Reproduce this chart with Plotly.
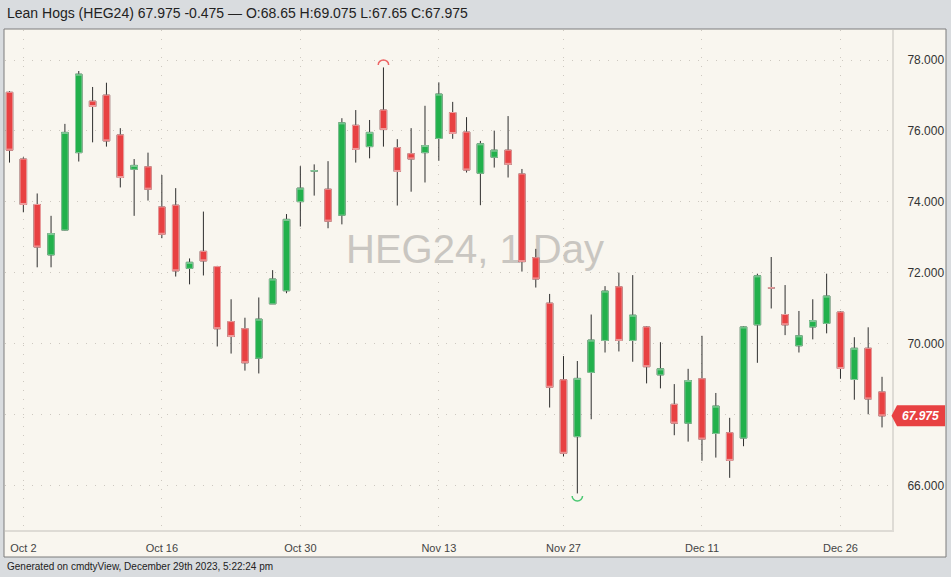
import plotly.graph_objects as go

# ---------------- data ----------------
dates = ["2023-09-29",
         "2023-10-02", "2023-10-03", "2023-10-04", "2023-10-05", "2023-10-06",
         "2023-10-09", "2023-10-10", "2023-10-11", "2023-10-12", "2023-10-13",
         "2023-10-16", "2023-10-17", "2023-10-18", "2023-10-19", "2023-10-20",
         "2023-10-23", "2023-10-24", "2023-10-25", "2023-10-26", "2023-10-27",
         "2023-10-30", "2023-10-31", "2023-11-01", "2023-11-02", "2023-11-03",
         "2023-11-06", "2023-11-07", "2023-11-08", "2023-11-09", "2023-11-10",
         "2023-11-13", "2023-11-14", "2023-11-15", "2023-11-16", "2023-11-17",
         "2023-11-20", "2023-11-21", "2023-11-22", "2023-11-24",
         "2023-11-27", "2023-11-28", "2023-11-29", "2023-11-30", "2023-12-01",
         "2023-12-04", "2023-12-05", "2023-12-06", "2023-12-07", "2023-12-08",
         "2023-12-11", "2023-12-12", "2023-12-13", "2023-12-14", "2023-12-15",
         "2023-12-18", "2023-12-19", "2023-12-20", "2023-12-21", "2023-12-22",
         "2023-12-26", "2023-12-27", "2023-12-28", "2023-12-29"]

opens = [77.09, 75.21, 73.93, 72.51, 73.21, 75.39, 76.84, 77.01, 75.89, 74.92,
         74.99, 73.86, 73.91, 72.13, 72.61, 72.18, 70.63, 70.43, 69.60, 71.13,
         71.50, 74.01, 74.87, 74.36, 73.63, 76.16, 75.56, 76.59, 75.53, 75.36,
         75.39, 75.79, 76.52, 75.97, 74.81, 75.26, 75.46, 74.79, 72.43, 71.15,
         68.99, 67.39, 69.20, 70.10, 71.61, 70.10, 70.48, 69.13, 68.30, 67.77,
         69.02, 67.48, 67.50, 67.35, 70.54, 71.58, 70.83, 69.95, 70.48, 70.58,
         70.90, 69.00, 69.88, 68.65]
highs = [77.12, 75.26, 74.24, 73.61, 76.20, 77.69, 77.24, 77.36, 76.08, 75.21,
         75.39, 74.76, 74.39, 72.41, 73.73, 72.20, 71.26, 70.74, 71.31, 72.08,
         73.66, 75.01, 75.06, 75.15, 76.36, 76.59, 76.31, 77.79, 75.77, 76.08,
         76.71, 77.37, 76.82, 76.39, 75.72, 76.01, 76.42, 74.93, 72.68, 71.41,
         69.66, 69.52, 70.83, 71.63, 72.01, 71.94, 70.50, 70.05, 68.87, 69.30,
         70.23, 68.62, 67.92, 70.50, 71.98, 72.45, 71.66, 70.93, 71.26, 71.98,
         70.92, 70.19, 70.47, 69.075]
lows = [75.11, 73.71, 72.16, 72.16, 73.20, 75.14, 75.68, 75.56, 74.41, 73.61,
        74.04, 72.98, 71.90, 71.68, 71.93, 69.93, 69.73, 69.25, 69.17, 71.13,
        71.43, 73.31, 74.18, 73.26, 73.37, 75.11, 75.23, 75.56, 73.90, 74.29,
        74.55, 75.16, 75.78, 74.83, 73.91, 74.97, 74.69, 72.04, 71.59, 68.21,
        66.83, 65.79, 67.88, 69.76, 69.79, 69.50, 68.89, 68.75, 67.43, 67.25,
        66.71, 66.80, 66.23, 67.12, 69.47, 71.00, 70.25, 69.76, 70.13, 70.30,
        69.02, 68.43, 68.02, 67.65]
closes = [75.46, 73.93, 72.73, 73.11, 75.96, 77.60, 76.69, 75.72, 74.69, 75.03,
          74.36, 73.09, 72.06, 72.30, 72.34, 70.43, 70.21, 69.47, 70.70, 71.83,
          73.51, 74.39, 74.88, 73.46, 76.23, 75.48, 75.96, 76.04, 74.86, 75.21,
          75.59, 77.04, 75.93, 74.90, 75.64, 75.46, 75.06, 72.32, 71.83, 68.78,
          66.92, 69.03, 70.11, 71.49, 70.10, 70.81, 69.36, 69.30, 67.77, 68.97,
          67.32, 68.25, 66.72, 70.48, 71.92, 71.58, 70.54, 70.23, 70.66, 71.35,
          69.31, 69.88, 68.45, 67.975]

tick_dates = ["2023-10-02", "2023-10-16", "2023-10-30", "2023-11-13",
              "2023-11-27", "2023-12-11", "2023-12-26"]
tick_labels = ["Oct 2", "Oct 16", "Oct 30", "Nov 13", "Nov 27", "Dec 11", "Dec 26"]
price_ticks = [66, 68, 70, 72, 74, 76, 78]

instrument = "Lean Hogs"
symbol = "HEG24"
interval = "1 Day"
footer_text = "Generated on cmdtyView, December 29th 2023, 5:22:24 pm"

# ---------------- styling ----------------
UP = "#22b14c"
DOWN = "#e84142"
UP_EDGE = "#86c99a"
DOWN_EDGE = "#eea0a0"
WICK = "#2e2e2e"
CREAM = "#f9f6ef"
OUTER = "#d9dcdf"
GRID = "#cdc8c0"
FONT = "Liberation Sans, Arial, sans-serif"

W, H = 951, 577
ML, MR, MT, MB = 5, 59, 30, 47
PW = W - ML - MR
PH = H - MT - MB
Y_RANGE = [64.76, 78.845]
X_RANGE = [-0.325, 63.72]


def px_x(p):
    return (p - ML) / PW


def px_y(p):
    return (H - MB - p) / PH


def val_to_paper(v):
    return (v - Y_RANGE[0]) / (Y_RANGE[1] - Y_RANGE[0])


x = list(range(len(dates)))
body_hi = [max(o, c) for o, c in zip(opens, closes)]
body_lo = [min(o, c) for o, c in zip(opens, closes)]

fig = go.Figure()
# wicks (dark)
fig.add_trace(go.Candlestick(
    x=x, open=opens, high=highs, low=lows, close=closes,
    increasing=dict(line=dict(color=WICK, width=1), fillcolor=UP),
    decreasing=dict(line=dict(color=WICK, width=1), fillcolor=DOWN),
    whiskerwidth=0, hoverinfo="skip", showlegend=False))
# bodies (coloured, light edge)
fig.add_trace(go.Candlestick(
    x=x, open=opens, high=body_hi, low=body_lo, close=closes,
    increasing=dict(line=dict(color=UP_EDGE, width=1), fillcolor=UP),
    decreasing=dict(line=dict(color=DOWN_EDGE, width=1), fillcolor=DOWN),
    whiskerwidth=0, hoverinfo="skip", showlegend=False))

shapes = []
# chart frame
shapes.append(dict(type="rect", xref="paper", yref="paper",
                   x0=px_x(4), x1=px_x(946), y0=px_y(557), y1=px_y(29),
                   fillcolor=CREAM, line=dict(color="#7d7d7d", width=1), layer="below"))
# watermark
shapes.append(dict(type="rect", xref="paper", yref="paper",
                   x0=px_x(330), x1=px_x(620), y0=px_y(270), y1=px_y(220),
                   fillcolor="rgba(0,0,0,0)", line=dict(width=0), layer="below",
                   label=dict(text=f"{symbol}, {interval}",
                              font=dict(family=FONT, size=40, color="#c9c6c1"),
                              textposition="middle center")))

# high / low markers (arcs)
i_hi = max(range(len(highs)), key=lambda i: highs[i])
i_lo = min(range(len(lows)), key=lambda i: lows[i])
ppx = PW / (X_RANGE[1] - X_RANGE[0])
ppy = PH / (Y_RANGE[1] - Y_RANGE[0])
rx, ry = 5.2 / ppx, 5.0 / ppy
k = 0.5523


def arc(xc, yc, sgn):
    return (f"M {xc-rx} {yc} C {xc-rx} {yc+sgn*k*ry} {xc-k*rx} {yc+sgn*ry} {xc} {yc+sgn*ry} "
            f"C {xc+k*rx} {yc+sgn*ry} {xc+rx} {yc+sgn*k*ry} {xc+rx} {yc}")


shapes.append(dict(type="path", xref="x", yref="y",
                   path=arc(x[i_hi], highs[i_hi] + 2.5 / ppy, 1),
                   line=dict(color="#ee6565", width=1.5)))
shapes.append(dict(type="path", xref="x", yref="y",
                   path=arc(x[i_lo], lows[i_lo] - 2.5 / ppy, -1),
                   line=dict(color="#4cc873", width=1.5)))

# last price tag
last = closes[-1]
yc = val_to_paper(last)
hh = 10.5 / PH
tag = (f"M {px_x(891.5)} {yc} L {px_x(897)} {yc+hh} L {px_x(945)} {yc+hh} "
       f"L {px_x(945)} {yc-hh} L {px_x(897)} {yc-hh} Z")
shapes.append(dict(type="path", xref="paper", yref="paper", path=tag,
                   fillcolor=DOWN, line=dict(width=0)))

change = closes[-1] - closes[-2]
title = (f"{instrument} ({symbol}) {last:.3f} {change:+.3f} \u2014 "
         f"O:{opens[-1]:g} H:{highs[-1]:g} L:{lows[-1]:g} C:{closes[-1]:g}")

# price-axis labels: the one hidden under the last-price tag is left blank
price_text = ["" if abs(t - last) < 0.4 else f"{t:.3f}" for t in price_ticks]

annotations = [
    dict(text=title, xref="paper", yref="paper", x=px_x(5), y=px_y(12.5),
         xanchor="left", yanchor="middle", showarrow=False,
         font=dict(family=FONT, size=14, color="#222222")),
    dict(text=footer_text, xref="paper", yref="paper", x=px_x(5), y=px_y(566.5),
         xanchor="left", yanchor="middle", showarrow=False,
         font=dict(family=FONT, size=10, color="#222222")),
    dict(text=f"<b><i>{last:.3f}</i></b>", xref="paper", yref="paper",
         x=px_x(920), y=yc, xanchor="center", yanchor="middle", showarrow=False,
         font=dict(family=FONT, size=12, color="#ffffff")),
]

fig.update_layout(
    width=W, height=H,
    margin=dict(l=ML, r=MR, t=MT, b=MB, pad=0),
    paper_bgcolor=OUTER, plot_bgcolor=CREAM,
    showlegend=False, boxgap=0.33,
    shapes=shapes, annotations=annotations,
    font=dict(family=FONT),
    xaxis=dict(range=X_RANGE, rangeslider=dict(visible=False),
               tickmode="array", tickvals=[dates.index(d) for d in tick_dates],
               ticktext=tick_labels, showgrid=True, gridcolor=GRID,
               griddash="1px,8px", gridwidth=1, zeroline=False,
               showline=True, linecolor="#dedbd5", linewidth=2,
               ticks="outside", ticklen=7, tickcolor="rgba(0,0,0,0)",
               tickfont=dict(family=FONT, size=11, color="#444444"),
               fixedrange=True),
    yaxis=dict(range=Y_RANGE, side="right", tickmode="array",
               tickvals=price_ticks, ticktext=price_text,
               showgrid=True, gridcolor=GRID, griddash="1px,8px", gridwidth=1,
               zeroline=False, showline=True, linecolor="#dedbd5", linewidth=2,
               ticks="outside", ticklen=11, tickcolor="rgba(0,0,0,0)",
               tickfont=dict(family=FONT, size=12, color="#333333"),
               fixedrange=True),
)

fig.write_html("out.html",
               config={"displayModeBar": False},
               post_script="document.body.style.margin='0px';"
                           "document.body.style.overflow='hidden';")
